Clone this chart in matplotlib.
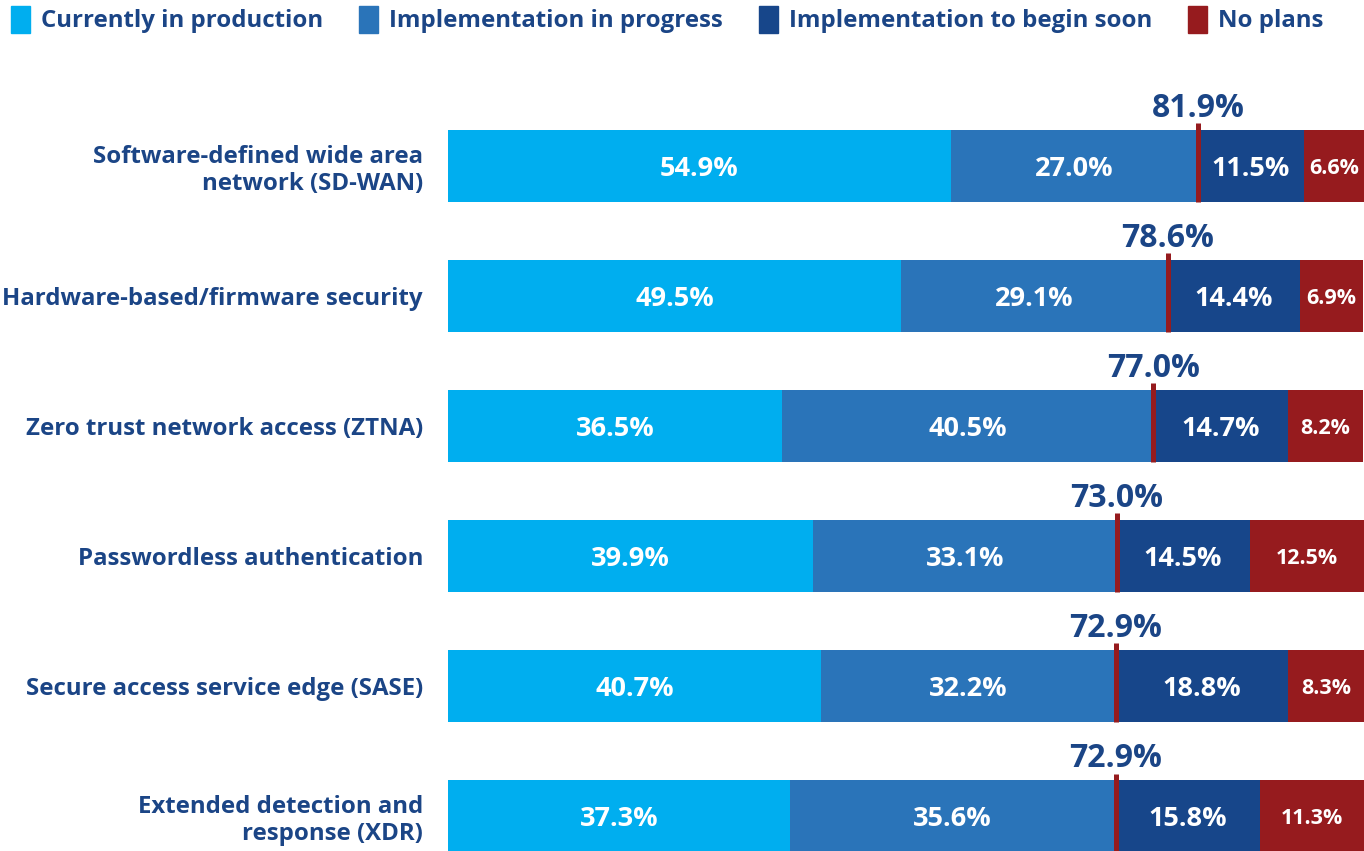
import matplotlib.pyplot as plt
import numpy as np
from matplotlib.patches import Patch

plt.rcParams['font.family'] = ['Open Sans', 'DejaVu Sans']

categories = [
    "Software-defined wide area\nnetwork (SD-WAN)",
    "Hardware-based/firmware security",
    "Zero trust network access (ZTNA)",
    "Passwordless authentication",
    "Secure access service edge (SASE)",
    "Extended detection and\nresponse (XDR)",
]
series_names = ["Currently in production", "Implementation in progress",
                "Implementation to begin soon", "No plans"]
production = [54.9, 49.5, 36.5, 39.9, 40.7, 37.3]
in_progress = [27.0, 29.1, 40.5, 33.1, 32.2, 35.6]
begin_soon = [11.5, 14.4, 14.7, 14.5, 18.8, 15.8]
no_plans = [6.6, 6.9, 8.2, 12.5, 8.3, 11.3]

colors = ["#00AEEF", "#2A74B9", "#17468A", "#961B1E"]
navy = "#1B4586"

fig = plt.figure(figsize=(13.64, 8.51), dpi=100)
ax = fig.add_axes([448 / 1364, 0, 1 - 448 / 1364, 781 / 851])

y = np.arange(len(categories))
h = 0.554
left = np.zeros(len(categories))
series = [production, in_progress, begin_soon, no_plans]
for vals, col, name in zip(series, colors, series_names):
    vals = np.array(vals)
    ax.barh(y, vals, left=left, height=h, color=col, label=name, linewidth=0)
    for yi, l, v in zip(y, left, vals):
        fs = 15.5 if col == colors[3] else 19.5
        ax.text(l + v / 2, yi + 0.02, f"{v:.1f}%", ha='center', va='center',
                color='white', fontsize=fs, fontweight='bold')
    left = left + vals

# marker at "in production + in progress" and its total label
totals = np.array(production) + np.array(in_progress)
ax.vlines(totals, y + h / 2, y - h / 2 - 0.05, color="#961B1E", linewidth=3.6)
for yi, t in zip(y, totals):
    ax.text(t, yi - h / 2 - 0.1, f"{t:.1f}%", ha='center', va='baseline',
            color=navy, fontsize=23, fontweight='bold')

ax.set_xlim(0, 100)
ax.set_ylim(5.269, -0.738)
ax.set_yticks(y)
ax.set_yticklabels(categories, fontsize=17.3, fontweight='bold', color=navy,
                   linespacing=1.15)
ax.tick_params(axis='y', length=0, pad=18)
ax.set_xticks([])
for s in ax.spines.values():
    s.set_visible(False)

handles = [Patch(color=c, label=n) for c, n in zip(colors, series_names)]
leg = fig.legend(handles=handles, loc='upper left', bbox_to_anchor=(0.0, 1.006),
                 ncol=4, frameon=False, fontsize=17.3, handlelength=0.8,
                 handleheight=1.35, handletextpad=0.45, columnspacing=1.5,
                 borderaxespad=0.05)
for t in leg.get_texts():
    t.set_color(navy)
    t.set_fontweight('bold')

fig.savefig("out.png", dpi=100)
